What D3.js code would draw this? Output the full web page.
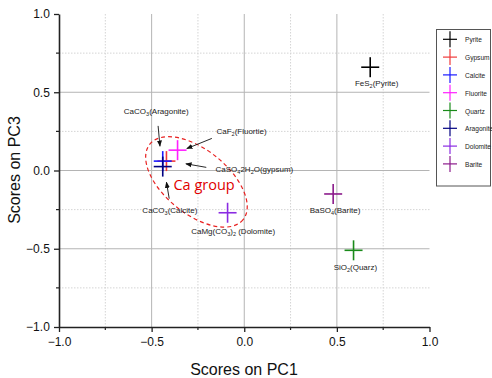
<!DOCTYPE html>
<html><head><meta charset="utf-8">
<script src="https://cdn.jsdelivr.net/npm/d3@7"></script>
<style>body{margin:0;background:#fff}svg{display:block;font-family:Arial,"Liberation Sans",sans-serif}</style>
</head><body><svg id="c" width="492" height="378"></svg>
<script>
const minerals = ["Pyrite","Gypsum","Calcite","Fluorite","Quartz","Aragonite","Dolomite","Barite"];
const pc1 = [0.68,-0.42,-0.44,-0.36,0.59,-0.44,-0.09,0.48];
const pc3 = [0.66,0.06,0.06,0.13,-0.51,0.025,-0.27,-0.15];
const colors = ["#000000","#f03a3a","#1a1aff","#ff20ff","#1a8a1a","#000080","#8a2be2","#8b1a8b"];
const majorTicks = [-1.0,-0.5,0.0,0.5,1.0];
const minorTicks = [-0.75,-0.25,0.25,0.75];

const svg = d3.select("#c");
const x = d3.scaleLinear().domain([-1,1]).range([59,429.5]);
const y = d3.scaleLinear().domain([-1,1]).range([327,14]);

// grid
const g = svg.append("g");
g.selectAll(".mv").data(minorTicks).join("line").attr("x1",d=>x(d)).attr("x2",d=>x(d)).attr("y1",y(1)).attr("y2",y(-1))
 .attr("stroke","#d4d4d4").attr("stroke-dasharray","1.5,1.5");
g.selectAll(".mh").data(minorTicks).join("line").attr("y1",d=>y(d)).attr("y2",d=>y(d)).attr("x1",x(-1)).attr("x2",x(1))
 .attr("stroke","#d4d4d4").attr("stroke-dasharray","1.5,1.5");
g.selectAll(".Mv").data([-0.5,0,0.5]).join("line").attr("x1",d=>x(d)).attr("x2",d=>x(d)).attr("y1",y(1)).attr("y2",y(-1))
 .attr("stroke","#b4b4b4");
g.selectAll(".Mh").data([-0.5,0,0.5]).join("line").attr("y1",d=>y(d)).attr("y2",d=>y(d)).attr("x1",x(-1)).attr("x2",x(1))
 .attr("stroke","#b4b4b4");

// axes
const xAxis = d3.axisBottom(x).tickValues(majorTicks).tickFormat(d3.format(".1f")).tickSize(5).tickSizeOuter(0);
const yAxis = d3.axisLeft(y).tickValues(majorTicks).tickFormat(d3.format(".1f")).tickSize(5).tickSizeOuter(0);
const gx = svg.append("g").attr("transform",`translate(0,${y(-1)})`).call(xAxis);
const gy = svg.append("g").attr("transform",`translate(${x(-1)},0)`).call(yAxis);
[gx,gy].forEach(a=>{a.select(".domain").attr("stroke","#222").attr("stroke-width",1.6);
 a.selectAll(".tick line").attr("stroke","#222").attr("stroke-width",1.3);
 a.selectAll(".tick text").attr("font-size",12).attr("fill","#111").attr("font-family","Arial, 'Liberation Sans', sans-serif");});
gx.selectAll(".tick text").attr("dy","0.95em");
gy.selectAll(".tick text").attr("dx","-0.1em");
svg.append("g").selectAll("line").data(minorTicks).join("line").attr("x1",d=>x(d)).attr("x2",d=>x(d)).attr("y1",y(-1)).attr("y2",y(-1)+3).attr("stroke","#222").attr("stroke-width",1.2);
svg.append("g").selectAll("line").data(minorTicks).join("line").attr("y1",d=>y(d)).attr("y2",d=>y(d)).attr("x1",x(-1)).attr("x2",x(-1)-3).attr("stroke","#222").attr("stroke-width",1.2);

svg.append("text").attr("x",244).attr("y",375).attr("text-anchor","middle").attr("font-size",16).attr("fill","#111").text("Scores on PC1");
svg.append("text").attr("transform","translate(20,170) rotate(-90)").attr("text-anchor","middle").attr("font-size",16).attr("fill","#111").text("Scores on PC3");

// ellipse (Ca group)
const ecx = x(-0.258), ecy = y(-0.073);
svg.append("ellipse").attr("cx",ecx).attr("cy",ecy).attr("rx",60).attr("ry",32)
 .attr("transform",`rotate(39,${ecx},${ecy})`).attr("fill","none").attr("stroke","#e82020").attr("stroke-width",1.2).attr("stroke-dasharray","4,3");
svg.append("text").attr("x",x(-0.382)).attr("y",y(-0.125)).attr("font-family","'Open Sans',sans-serif").attr("font-size",14.5).attr("fill","#e00000").text("Ca group");

// markers
const h = 9;
const pts = svg.append("g").selectAll("g").data(minerals).join("g").attr("transform",(d,i)=>`translate(${x(pc1[i])},${y(pc3[i])})`);
pts.append("line").attr("x1",-h).attr("x2",h).attr("stroke",(d,i)=>colors[i]).attr("stroke-width",1.6);
pts.append("line").attr("y1",-h-1).attr("y2",h+1).attr("stroke",(d,i)=>colors[i]).attr("stroke-width",1.6);

// labels
function lab(px,py,parts,anchor){
  const t = svg.append("text").attr("x",px).attr("y",py).attr("font-size",8).attr("fill","#222").attr("text-anchor",anchor||"start");
  let shifted = false;
  parts.forEach(p=>{
    if(typeof p==="string"){ const s=t.append("tspan").text(p); if(shifted){s.attr("dy",-2); shifted=false;} }
    else { t.append("tspan").attr("font-size",5.5).attr("dy",2).text(p.s); shifted = true; }
  });
  return t;
}
lab(x(0.715),y(0.54),["FeS",{s:"2"},"(Pyrite)"],"middle");
lab(x(-0.65),y(0.36),["CaCO",{s:"3"},"(Aragonite)"]);
lab(x(-0.15),y(0.235),["CaF",{s:"2"},"(Fluortie)"]);
lab(x(-0.155),y(-0.01),["CaSO",{s:"4"},"2H",{s:"2"},"O(gypsum)"]);
lab(x(-0.55),y(-0.27),["CaCO",{s:"3"},"(Calcite)"]);
lab(x(-0.06),y(-0.405),["CaMg(CO",{s:"3"},")",{s:"2"}," (Dolomite)"],"middle");
lab(x(0.49),y(-0.27),["BaSO",{s:"4"},"(Barite)"],"middle");
lab(x(0.60),y(-0.635),["SiO",{s:"2"},"(Quarz)"],"middle");

// arrows
const defs = svg.append("defs");
defs.append("marker").attr("id","ah").attr("viewBox","0 0 10 10").attr("refX",9).attr("refY",5).attr("markerWidth",7).attr("markerHeight",7).attr("orient","auto")
 .append("path").attr("d","M0,1 L10,5 L0,9 Z").attr("fill","#111");
const arrows = [[-0.465,0.285,-0.455,0.155],[-0.175,0.205,-0.31,0.14],[-0.205,0.02,-0.315,0.043],[-0.405,-0.18,-0.42,-0.075]];
svg.append("g").selectAll("line").data(arrows).join("line").attr("x1",d=>x(d[0])).attr("y1",d=>y(d[1])).attr("x2",d=>x(d[2])).attr("y2",d=>y(d[3]))
 .attr("stroke","#111").attr("stroke-width",0.9).attr("marker-end","url(#ah)");

// legend
const lg = svg.append("g");
lg.append("rect").attr("x",436.5).attr("y",29.5).attr("width",54).attr("height",156.5).attr("fill","#fff").attr("stroke","#555").attr("stroke-width",1);
const li = lg.selectAll("g.li").data(minerals).join("g").attr("transform",(d,i)=>`translate(450,${39.3+i*17.8})`);
li.append("line").attr("x1",-7).attr("x2",7).attr("stroke",(d,i)=>colors[i]).attr("stroke-width",1.2);
li.append("line").attr("y1",-8).attr("y2",8).attr("stroke",(d,i)=>colors[i]).attr("stroke-width",1.2);
li.append("text").attr("x",15).attr("y",3).attr("font-size",6.6).attr("fill","#222").text(d=>d);
</script></body></html>
